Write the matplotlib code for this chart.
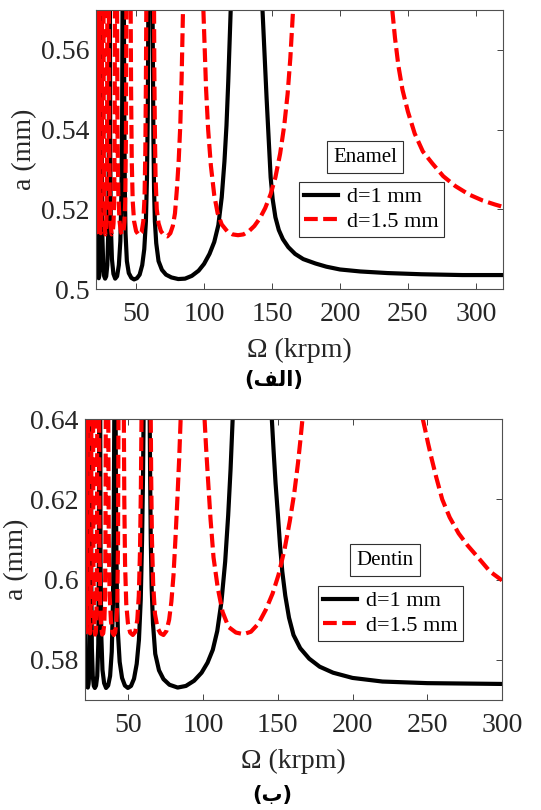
import matplotlib
matplotlib.use('Agg')
import matplotlib.pyplot as plt
import numpy as np

plt.rcParams['font.family'] = ['Liberation Serif', 'DejaVu Sans']

# stability lobes, spindle speed (krpm) vs axial depth a (mm); one sub-list per lobe
enamel_d1_omega = [
    [20.4, 20.6, 20.9, 21.4, 22.0, 22.5, 23.0, 23.5, 23.9, 24.2],
    [24.6, 24.8, 25.2, 25.8, 26.5, 27.2, 28.0, 28.8, 29.5, 29.9, 30.1],
    [30.7, 30.9, 31.4, 32.2, 33.3, 34.6, 36.0, 37.3, 38.4, 39.2, 39.7, 40.0],
    [41.0, 41.3, 41.7, 42.2, 43.2, 44.6, 46.5, 48.5, 50.6, 52.6, 54.5, 56.0, 57.2, 58.0, 58.6, 59.0],
    [62.1, 62.4, 62.7, 63.2, 63.8, 64.8, 66.5, 69.0, 72.0, 76.0, 81.0, 86.0, 91.0, 96.0, 100.0,
     104.0, 107.5, 110.5, 113.0, 115.0, 116.5, 117.8, 119.0, 119.6],
    [143.0, 144.5, 146.0, 147.5, 149.0, 150.5, 152.5, 155.0, 158.0, 162.0, 167.0, 173.0, 182.0,
     190.0, 200.0, 215.0, 235.0, 260.0, 290.0, 320.0],
]
enamel_d1_a = [
    [0.570, 0.530, 0.512, 0.5055, 0.5030, 0.5027, 0.5035, 0.507, 0.520, 0.570],
    [0.570, 0.530, 0.513, 0.506, 0.5032, 0.5026, 0.5032, 0.506, 0.514, 0.535, 0.570],
    [0.570, 0.535, 0.516, 0.5075, 0.5038, 0.5026, 0.5032, 0.506, 0.512, 0.524, 0.543, 0.570],
    [0.570, 0.545, 0.525, 0.514, 0.507, 0.5040, 0.5028, 0.5024, 0.5027, 0.5036, 0.506, 0.510,
     0.517, 0.528, 0.545, 0.570],
    [0.570, 0.555, 0.539, 0.525, 0.517, 0.5115, 0.507, 0.5048, 0.5036, 0.5029, 0.5025, 0.5026,
     0.5033, 0.5046, 0.5063, 0.5088, 0.5118, 0.516, 0.523, 0.532, 0.541, 0.552, 0.564, 0.570],
    [0.570, 0.559, 0.548, 0.538, 0.528, 0.5225, 0.518, 0.5148, 0.5125, 0.5105, 0.5088, 0.5075,
     0.5064, 0.5056, 0.5049, 0.5044, 0.5040, 0.5037, 0.5035, 0.5035],
]

enamel_d15_omega = [
    [20.3, 20.45, 20.75, 21.05, 21.4, 21.7, 21.9],
    [22.8, 22.95, 23.25, 23.6, 24.0, 24.35, 24.6, 24.8],
    [26.0, 26.2, 26.6, 27.0, 27.4, 27.9, 28.3, 28.6, 28.8],
    [30.0, 30.2, 30.7, 31.3, 32.0, 32.7, 33.4, 33.9, 34.2, 34.4],
    [36.0, 36.3, 36.9, 37.8, 38.8, 39.7, 40.6, 41.4, 42.0, 42.5, 42.8],
    [46.0, 46.3, 46.8, 47.5, 48.5, 50.0, 52.0, 54.0, 55.3, 56.2, 56.8, 57.2, 57.5],
    [63.2, 63.4, 63.8, 64.3, 65.2, 66.5, 68.3, 70.5, 73.0, 75.2, 77.0, 78.6, 80.0, 81.3, 82.5,
     83.5, 84.5],
    [99.5, 100.5, 101.5, 103.0, 105.0, 107.5, 110.0, 113.0, 117.0, 121.0, 125.0, 129.0, 133.0,
     137.0, 141.0, 145.0, 149.0, 152.5, 156.0, 159.0, 161.5, 163.5, 165.5],
    [238.5, 240.5, 243.0, 246.0, 250.0, 255.0, 261.0, 268.0, 276.0, 285.0, 295.0, 305.0, 314.0, 320.0],
]
enamel_d15_a = [
    [0.570, 0.532, 0.518, 0.5142, 0.5145, 0.525, 0.570],
    [0.570, 0.533, 0.519, 0.5142, 0.5140, 0.518, 0.532, 0.570],
    [0.570, 0.535, 0.520, 0.5150, 0.5137, 0.5145, 0.519, 0.533, 0.570],
    [0.570, 0.538, 0.522, 0.5158, 0.5137, 0.5140, 0.5165, 0.523, 0.540, 0.570],
    [0.570, 0.540, 0.524, 0.5170, 0.5143, 0.5136, 0.5142, 0.5168, 0.522, 0.538, 0.570],
    [0.570, 0.550, 0.532, 0.522, 0.517, 0.5145, 0.5135, 0.5142, 0.517, 0.523, 0.535, 0.552, 0.570],
    [0.570, 0.555, 0.540, 0.528, 0.520, 0.5165, 0.5145, 0.5135, 0.5132, 0.5140, 0.5158, 0.519,
     0.525, 0.532, 0.541, 0.553, 0.570],
    [0.570, 0.560, 0.550, 0.540, 0.531, 0.5235, 0.519, 0.5162, 0.5145, 0.5137, 0.5135, 0.5137,
     0.5145, 0.5158, 0.5177, 0.5203, 0.5238, 0.528, 0.534, 0.541, 0.549, 0.558, 0.570],
    [0.570, 0.563, 0.556, 0.550, 0.5445, 0.539, 0.5345, 0.5315, 0.5283, 0.5258, 0.5237, 0.5222,
     0.5212, 0.5206],
]

dentin_d1_omega = [
    [20.8, 21.0, 21.3, 21.8, 22.4, 22.9, 23.4, 23.9, 24.3, 24.6],
    [25.0, 25.2, 25.6, 26.2, 26.9, 27.6, 28.4, 29.2, 29.9, 30.3, 30.5],
    [31.2, 31.4, 31.9, 32.7, 33.8, 35.1, 36.5, 37.8, 38.9, 39.7, 40.2, 40.6],
    [41.5, 41.8, 42.3, 43.0, 44.2, 45.8, 47.7, 49.7, 51.8, 53.8, 55.6, 57.1, 58.3, 59.2, 59.8, 60.2],
    [64.3, 64.6, 65.0, 65.6, 66.5, 68.0, 70.5, 73.5, 77.5, 83.0, 88.5, 94.0, 99.0, 103.0, 106.5,
     109.5, 112.3, 114.8, 116.8, 118.4, 119.8],
    [146.0, 147.2, 148.5, 150.0, 151.5, 153.0, 155.0, 157.5, 160.5, 165.0, 171.0, 178.0, 187.0,
     200.0, 220.0, 250.0, 300.0],
]
dentin_d1_a = [
    [0.640, 0.600, 0.582, 0.5755, 0.5733, 0.5731, 0.5740, 0.577, 0.590, 0.640],
    [0.640, 0.600, 0.583, 0.576, 0.5735, 0.5730, 0.5736, 0.576, 0.584, 0.605, 0.640],
    [0.640, 0.605, 0.586, 0.5775, 0.5742, 0.5730, 0.5736, 0.576, 0.582, 0.594, 0.613, 0.640],
    [0.640, 0.615, 0.598, 0.587, 0.5795, 0.5755, 0.5736, 0.5730, 0.5735, 0.5753, 0.5790, 0.585,
     0.595, 0.610, 0.625, 0.640],
    [0.640, 0.625, 0.610, 0.598, 0.589, 0.5815, 0.5774, 0.5752, 0.5738, 0.5731, 0.5735, 0.5748,
     0.5768, 0.5793, 0.5825, 0.5872, 0.5945, 0.6045, 0.6160, 0.6275, 0.640],
    [0.640, 0.632, 0.624, 0.6165, 0.6085, 0.602, 0.596, 0.5905, 0.5862, 0.5829, 0.5803, 0.5783,
     0.5768, 0.5755, 0.5746, 0.5742, 0.5740],
]

dentin_d15_omega = [
    [20.6, 20.75, 21.05, 21.35, 21.7, 22.0, 22.2],
    [23.2, 23.35, 23.65, 24.0, 24.4, 24.75, 25.0, 25.2],
    [26.4, 26.6, 27.0, 27.4, 27.8, 28.3, 28.7, 29.0, 29.2],
    [30.5, 30.7, 31.2, 31.8, 32.5, 33.2, 33.9, 34.4, 34.7, 34.9],
    [36.6, 36.9, 37.5, 38.4, 39.4, 40.3, 41.2, 42.0, 42.6, 43.1, 43.4],
    [47.0, 47.3, 47.8, 48.6, 49.7, 51.2, 53.0, 54.7, 56.0, 57.0, 57.8, 58.4, 58.8],
    [65.0, 65.3, 65.8, 66.6, 67.8, 69.5, 71.5, 73.5, 75.5, 77.3, 78.8, 80.2, 81.5, 82.8, 84.0, 85.0],
    [101.0, 102.0, 103.3, 105.0, 107.0, 109.8, 113.0, 117.0, 122.0, 127.0, 132.0, 137.0, 142.0,
     146.5, 150.5, 154.5, 158.0, 161.0, 163.5, 165.2, 166.5],
    [247.0, 248.5, 250.5, 253.0, 256.0, 260.0, 265.0, 271.0, 277.0, 284.0, 292.0, 300.0],
]
dentin_d15_a = [
    [0.640, 0.602, 0.590, 0.5868, 0.5870, 0.596, 0.640],
    [0.640, 0.603, 0.591, 0.5868, 0.5866, 0.590, 0.603, 0.640],
    [0.640, 0.605, 0.592, 0.5875, 0.5863, 0.5870, 0.591, 0.604, 0.640],
    [0.640, 0.608, 0.594, 0.5882, 0.5863, 0.5866, 0.589, 0.595, 0.611, 0.640],
    [0.640, 0.610, 0.596, 0.5895, 0.5868, 0.5862, 0.5868, 0.5893, 0.594, 0.609, 0.640],
    [0.640, 0.620, 0.604, 0.594, 0.5892, 0.5868, 0.5862, 0.5870, 0.5900, 0.5960, 0.6070, 0.6230, 0.640],
    [0.640, 0.625, 0.610, 0.599, 0.5915, 0.5880, 0.5866, 0.5862, 0.5872, 0.5900, 0.5945, 0.6010,
     0.6100, 0.6200, 0.630, 0.640],
    [0.640, 0.633, 0.625, 0.615, 0.6055, 0.598, 0.592, 0.5882, 0.5868, 0.5864, 0.5870, 0.5890,
     0.5925, 0.5965, 0.6012, 0.6075, 0.6145, 0.6215, 0.6290, 0.6350, 0.640],
    [0.640, 0.6375, 0.634, 0.630, 0.6255, 0.620, 0.6155, 0.6115, 0.6085, 0.6055, 0.6020, 0.5998],
]

omega_ticks = [50, 100, 150, 200, 250, 300]
enamel_yticks = [0.5, 0.52, 0.54, 0.56]
enamel_ylabels = ['0.5', '0.52', '0.54', '0.56']
dentin_yticks = [0.58, 0.6, 0.62, 0.64]
dentin_ylabels = ['0.58', '0.6', '0.62', '0.64']

DARK = '#262626'


def join_lobes(omega_lobes, a_lobes):
    # one polyline per curve, lobes separated by NaN
    xs, ys = [], []
    for o, a in zip(omega_lobes, a_lobes):
        xs += list(o) + [np.nan]
        ys += list(a) + [np.nan]
    return np.array(xs), np.array(ys)


def drawPanel(ax, d1_omega, d1_a, d15_omega, d15_a, xlim, ylim, yticks, ylabels,
              material, leg_anchor, box_xy, ylabelpad):
    x1, y1 = join_lobes(d1_omega, d1_a)
    x2, y2 = join_lobes(d15_omega, d15_a)
    ax.plot(x1, y1, color='black', lw=3.0, label='d=1 mm')
    ax.plot(x2, y2, color='red', lw=3.0, ls=(0, (3.3, 1.3)), label='d=1.5 mm')

    ax.set_xlim(*xlim)
    ax.set_ylim(*ylim)
    ax.set_xticks(omega_ticks)
    ax.set_yticks(yticks)
    ax.set_yticklabels(ylabels)
    ax.tick_params(direction='in', top=True, right=True, length=4, width=0.6,
                   colors=DARK, labelsize=20)
    ax.tick_params(axis='x', pad=9)
    ax.tick_params(axis='y', pad=4.5)
    for s in ax.spines.values():
        s.set_color('#505050')
        s.set_linewidth(0.8)

    ax.set_xlabel('\u03a9 (krpm)', fontsize=20, color=DARK, labelpad=8)
    ax.set_ylabel('a (mm)', fontsize=20, color=DARK, labelpad=ylabelpad)

    leg = ax.legend(loc='upper left', bbox_to_anchor=leg_anchor, fontsize=16,
                    fancybox=False, framealpha=1, edgecolor='#303030',
                    handlelength=1.55, handletextpad=0.4, borderpad=0.22,
                    labelspacing=0.18, borderaxespad=0)
    leg.get_frame().set_linewidth(0.8)

    ax.text(box_xy[0], box_xy[1], material, transform=ax.transAxes, fontsize=15,
            ha='center', va='center', color='black',
            bbox=dict(boxstyle='square,pad=0.3', fc='white', ec='#303030', lw=0.8))


fig = plt.figure(figsize=(5.41, 8.10), dpi=100)

ax1 = fig.add_axes([0.1775, 0.6432, 0.7523, 0.3445])
drawPanel(ax1, enamel_d1_omega, enamel_d1_a, enamel_d15_omega, enamel_d15_a,
          (20.5, 320), (0.5, 0.57), enamel_yticks, enamel_ylabels,
          'Enamel', (0.499, 0.384), (0.661, 0.473), 3)

ax2 = fig.add_axes([0.1571, 0.1358, 0.7708, 0.3469])
drawPanel(ax2, dentin_d1_omega, dentin_d1_a, dentin_d15_omega, dentin_d15_a,
          (21, 300), (0.57, 0.64), dentin_yticks, dentin_ylabels,
          'Dentin', (0.559, 0.406), (0.719, 0.498), 1)

# panel captions (alef-lam-feh, beh), glyphs in visual order
fig.text(274 / 541, 1 - 380 / 810, '(\ufed2\ufedf\ufe8d)', family='DejaVu Sans',
         fontweight='bold', fontsize=15, ha='center', va='center')
fig.text(272 / 541, 1 - 795 / 810, '(\u0628)', family='DejaVu Sans',
         fontweight='bold', fontsize=15, ha='center', va='center')

fig.savefig('out.png', dpi=100)
